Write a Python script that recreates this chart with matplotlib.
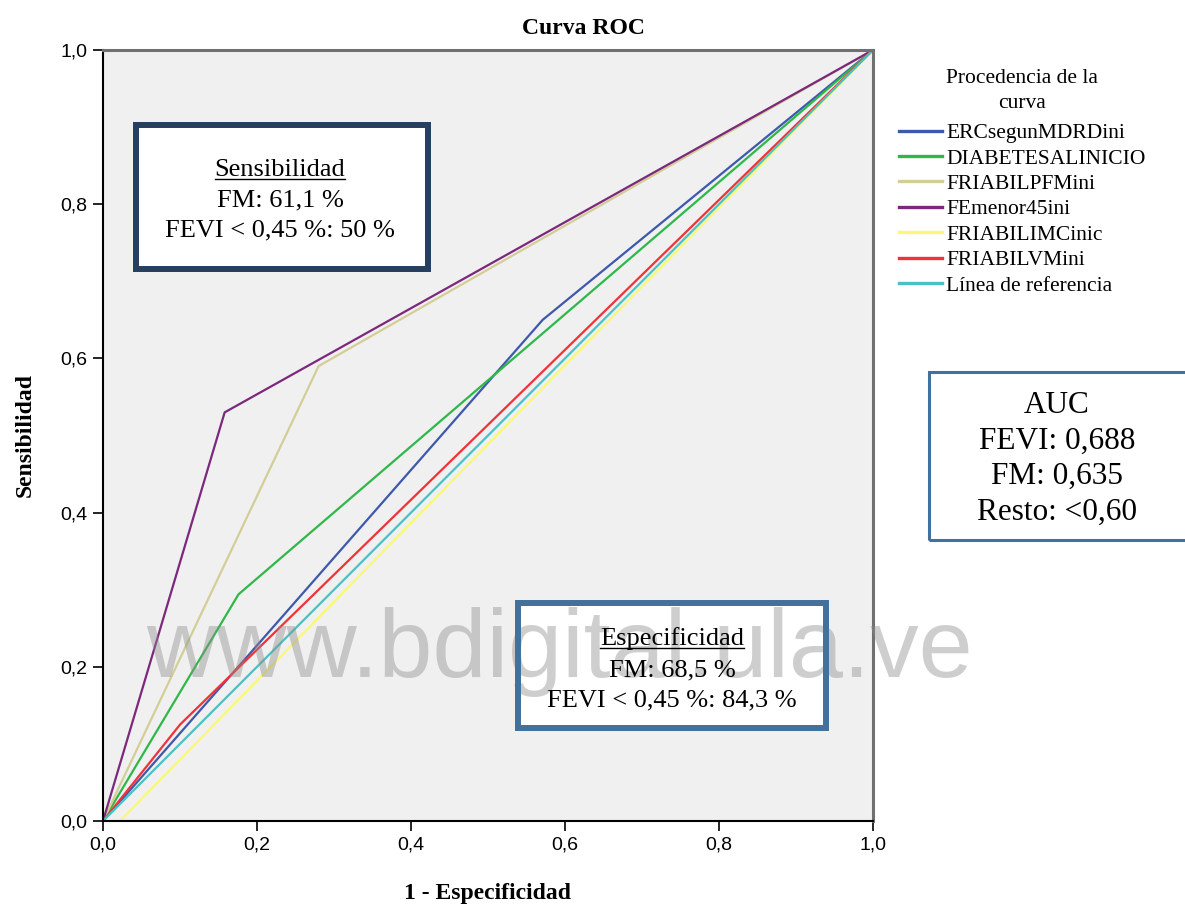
import matplotlib
matplotlib.use("Agg")
import matplotlib.pyplot as plt
from matplotlib.patches import Rectangle
from matplotlib.lines import Line2D
from matplotlib.ticker import FuncFormatter

# ROC curves: (1 - especificidad, sensibilidad)
erc_x = [0.0, 0.571, 1.0]
erc_y = [0.0, 0.650, 1.0]
diab_x = [0.0, 0.176, 1.0]
diab_y = [0.0, 0.294, 1.0]
pfm_x = [0.0, 0.280, 1.0]
pfm_y = [0.0, 0.590, 1.0]
fe45_x = [0.0, 0.158, 1.0]
fe45_y = [0.0, 0.530, 1.0]
imc_x = [0.0, 0.022, 1.0]
imc_y = [0.0, 0.0, 1.0]
vm_x = [0.0, 0.100, 1.0]
vm_y = [0.0, 0.125, 1.0]
ref_x = [0.0, 1.0]
ref_y = [0.0, 1.0]

labels = ["ERCsegunMDRDini", "DIABETESALINICIO", "FRIABILPFMini", "FEmenor45ini",
          "FRIABILIMCinic", "FRIABILVMini", "Línea de referencia"]
colors = ["#3E58AC", "#2EB848", "#D3CE97", "#7C287D", "#FBF873", "#EF3338", "#48C2C5"]

sens_lines = ["FM: 61,1 %", "FEVI < 0,45 %: 50 %"]
espec_lines = ["FM: 68,5 %", "FEVI < 0,45 %: 84,3 %"]
auc_lines = ["AUC", "FEVI: 0,688", "FM: 0,635", "Resto: <0,60"]

W, H = 1185, 909
fig = plt.figure(figsize=(W / 100, H / 100), dpi=100)
serif = "Liberation Serif"
narrow = ["Liberation Sans Narrow", "Liberation Sans"]


def fx(px):
    return px / W


def fy(py):
    return 1 - py / H


ax = fig.add_axes([fx(103), fy(821), fx(873) - fx(103), fy(50) - fy(821)])
ax.set_facecolor("#F0F0F0")

series = [(erc_x, erc_y), (diab_x, diab_y), (pfm_x, pfm_y), (fe45_x, fe45_y),
          (imc_x, imc_y), (vm_x, vm_y), (ref_x, ref_y)]
for (xs, ys), lab, c in zip(series, labels, colors):
    ax.plot(xs, ys, color=c, lw=1.6, label=lab)

ax.set_xlim(0, 1)
ax.set_ylim(0, 1)
ticks = [0, 0.2, 0.4, 0.6, 0.8, 1.0]
ax.set_xticks(ticks)
ax.set_yticks(ticks)
fmt = FuncFormatter(lambda v, p: f"{v:.1f}".replace(".", ","))
ax.xaxis.set_major_formatter(fmt)
ax.yaxis.set_major_formatter(fmt)
ax.tick_params(direction="out", length=7, width=1.2, labelsize=14, pad=4)
for lab in ax.get_xticklabels() + ax.get_yticklabels():
    lab.set_family(narrow)
for s in ["left", "bottom"]:
    ax.spines[s].set_color("black")
    ax.spines[s].set_linewidth(1.5)
for s in ["top", "right"]:
    ax.spines[s].set_color("#707070")
    ax.spines[s].set_linewidth(2.2)

fig.text(fx(583), fy(28), "Curva ROC", family=serif, weight="bold", fontsize=17,
         ha="center", va="center")
fig.text(fx(487), fy(893), "1 - Especificidad", family=serif, weight="bold",
         fontsize=17, ha="center", va="center")
fig.text(fx(25), fy(435), "Sensibilidad", family=serif, weight="bold", fontsize=17,
         ha="center", va="center", rotation=90)

leg = fig.legend(loc="upper left", bbox_to_anchor=(fx(899), fy(69)), frameon=False,
                 title="Procedencia de la\ncurva", borderpad=0, borderaxespad=0,
                 handlelength=2.0, handletextpad=0.2, labelspacing=0.25,
                 prop={"family": serif, "size": 15.5})
leg.get_title().set_fontfamily(serif)
leg.get_title().set_fontsize(15.5)
leg.get_title().set_multialignment("center")
leg.get_title().set_linespacing(1.45)
leg._legend_box.sep = 7
for ln in leg.get_lines():
    ln.set_linewidth(2.4)


def box(x0, y0, x1, y1, edge, lw):
    fig.add_artist(Rectangle((fx(x0), fy(y1)), fx(x1) - fx(x0), fy(y0) - fy(y1),
                             transform=fig.transFigure, facecolor="white",
                             edgecolor="none", zorder=1))
    fig.add_artist(Rectangle((fx(x0), fy(y1)), fx(x1) - fx(x0), fy(y0) - fy(y1),
                             transform=fig.transFigure, facecolor="none",
                             edgecolor=edge, lw=lw, zorder=3))


box(136, 125, 428, 269, "#243F60", 4.3)
box(518, 603, 826, 728, "#41719C", 4.3)
box(929, 372, 1200, 540, "#41719C", 2.2)

heads = []
heads.append(fig.text(fx(280), fy(176), "Sensibilidad", family=serif, fontsize=19,
                      ha="center", va="baseline", zorder=4))
for i, t in enumerate(sens_lines):
    fig.text(fx(280), fy(206 + 30 * i), t, family=serif, fontsize=19,
             ha="center", va="baseline", zorder=4)

heads.append(fig.text(fx(672), fy(645), "Especificidad", family=serif, fontsize=19,
                      ha="center", va="baseline", zorder=4))
for i, t in enumerate(espec_lines):
    fig.text(fx(672), fy(676 + 30 * i), t, family=serif, fontsize=19,
             ha="center", va="baseline", zorder=4)

for i, t in enumerate(auc_lines):
    fig.text(fx(1057), fy(413 + 35.5 * i), t, family=serif, fontsize=22.5,
             ha="center", va="baseline", zorder=4)

# watermark
fig.text(fx(560), fy(677), "www.bdigital.ula.ve", family="Liberation Sans",
         fontsize=70, color="#8c8c8c", alpha=0.42, ha="center", va="baseline",
         zorder=2)

# underline the box headings
fig.canvas.draw()
r = fig.canvas.get_renderer()
for t in heads:
    bb = t.get_window_extent(r)
    yb = t.get_position()[1] - 3 / H
    fig.add_artist(Line2D([bb.x0 / W, bb.x1 / W], [yb, yb], color="black", lw=1.0,
                          transform=fig.transFigure, zorder=4))

fig.savefig("out.png", dpi=100)
